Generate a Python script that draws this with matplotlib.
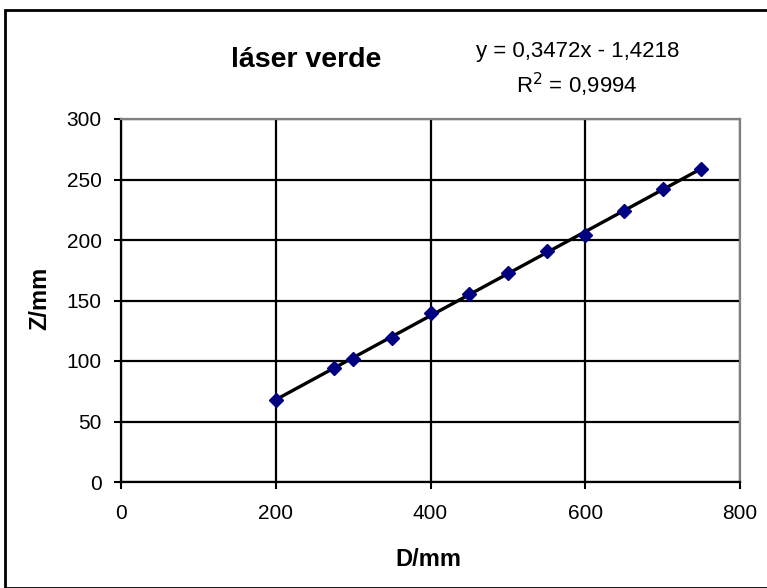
import numpy as np
import matplotlib
matplotlib.use("Agg")
import matplotlib.pyplot as plt
from matplotlib.patches import Rectangle

# data
d_mm = [200, 275, 300, 350, 400, 450, 500, 550, 600, 650, 700, 750]
z_mm = [68, 94, 102, 119, 140, 155, 173, 191, 204, 224, 242, 259]
slope = 0.3472
intercept = -1.4218
x_ticks = [0, 200, 400, 600, 800]
y_ticks = [0, 50, 100, 150, 200, 250, 300]

W, H = 767, 588
plt.rcParams['font.family'] = ['Liberation Sans', 'DejaVu Sans']

fig = plt.figure(figsize=(W / 100, H / 100), dpi=100)
ax = fig.add_axes([121 / W, 1 - 482 / H, (740 - 121) / W, (482 - 119) / H])

# outer chart border
fig.patches.append(Rectangle((5 / W, 0), 1.0, 1 - 10 / H, transform=fig.transFigure,
                             fill=False, edgecolor='black', linewidth=2))

ax.grid(True, color='black', linewidth=1.6)
ax.set_axisbelow(True)

fit_x = np.array([d_mm[0], d_mm[-1]])
ax.plot(fit_x, slope * fit_x + intercept, color='black', linewidth=2.4, zorder=2)
ax.plot(d_mm, z_mm, linestyle='none', marker='D', markersize=7,
        color='#000080', zorder=3)

ax.set_xlim(0, 800)
ax.set_ylim(0, 300)
ax.set_xticks(x_ticks)
ax.set_yticks(y_ticks)
ax.tick_params(labelsize=15, direction='out', length=5, width=1.5)
ax.tick_params(axis='y', pad=9)
ax.tick_params(axis='x', pad=11)

for side in ('left', 'bottom'):
    ax.spines[side].set_color('black')
    ax.spines[side].set_linewidth(1.6)
for side in ('top', 'right'):
    ax.spines[side].set_color('#808080')
    ax.spines[side].set_linewidth(1.6)

fig.text(428 / W, 1 - 559 / H, 'D/mm', fontsize=17, fontweight='bold',
         ha='center', va='center')
fig.text(40 / W, 1 - 298 / H, 'Z/mm', fontsize=17, fontweight='bold',
         ha='center', va='center', rotation=90)

fig.text(306 / W, 1 - 67 / H, 'láser verde', fontsize=20.5, fontweight='bold',
         ha='center', va='baseline')
fig.text(578 / W, 1 - 57 / H, 'y = 0,3472x - 1,4218', fontsize=16,
         ha='center', va='baseline')
fig.text(577 / W, 1 - 93 / H, 'R$^2$ = 0,9994', fontsize=16,
         ha='center', va='baseline')

fig.savefig('out.png', dpi=100)
